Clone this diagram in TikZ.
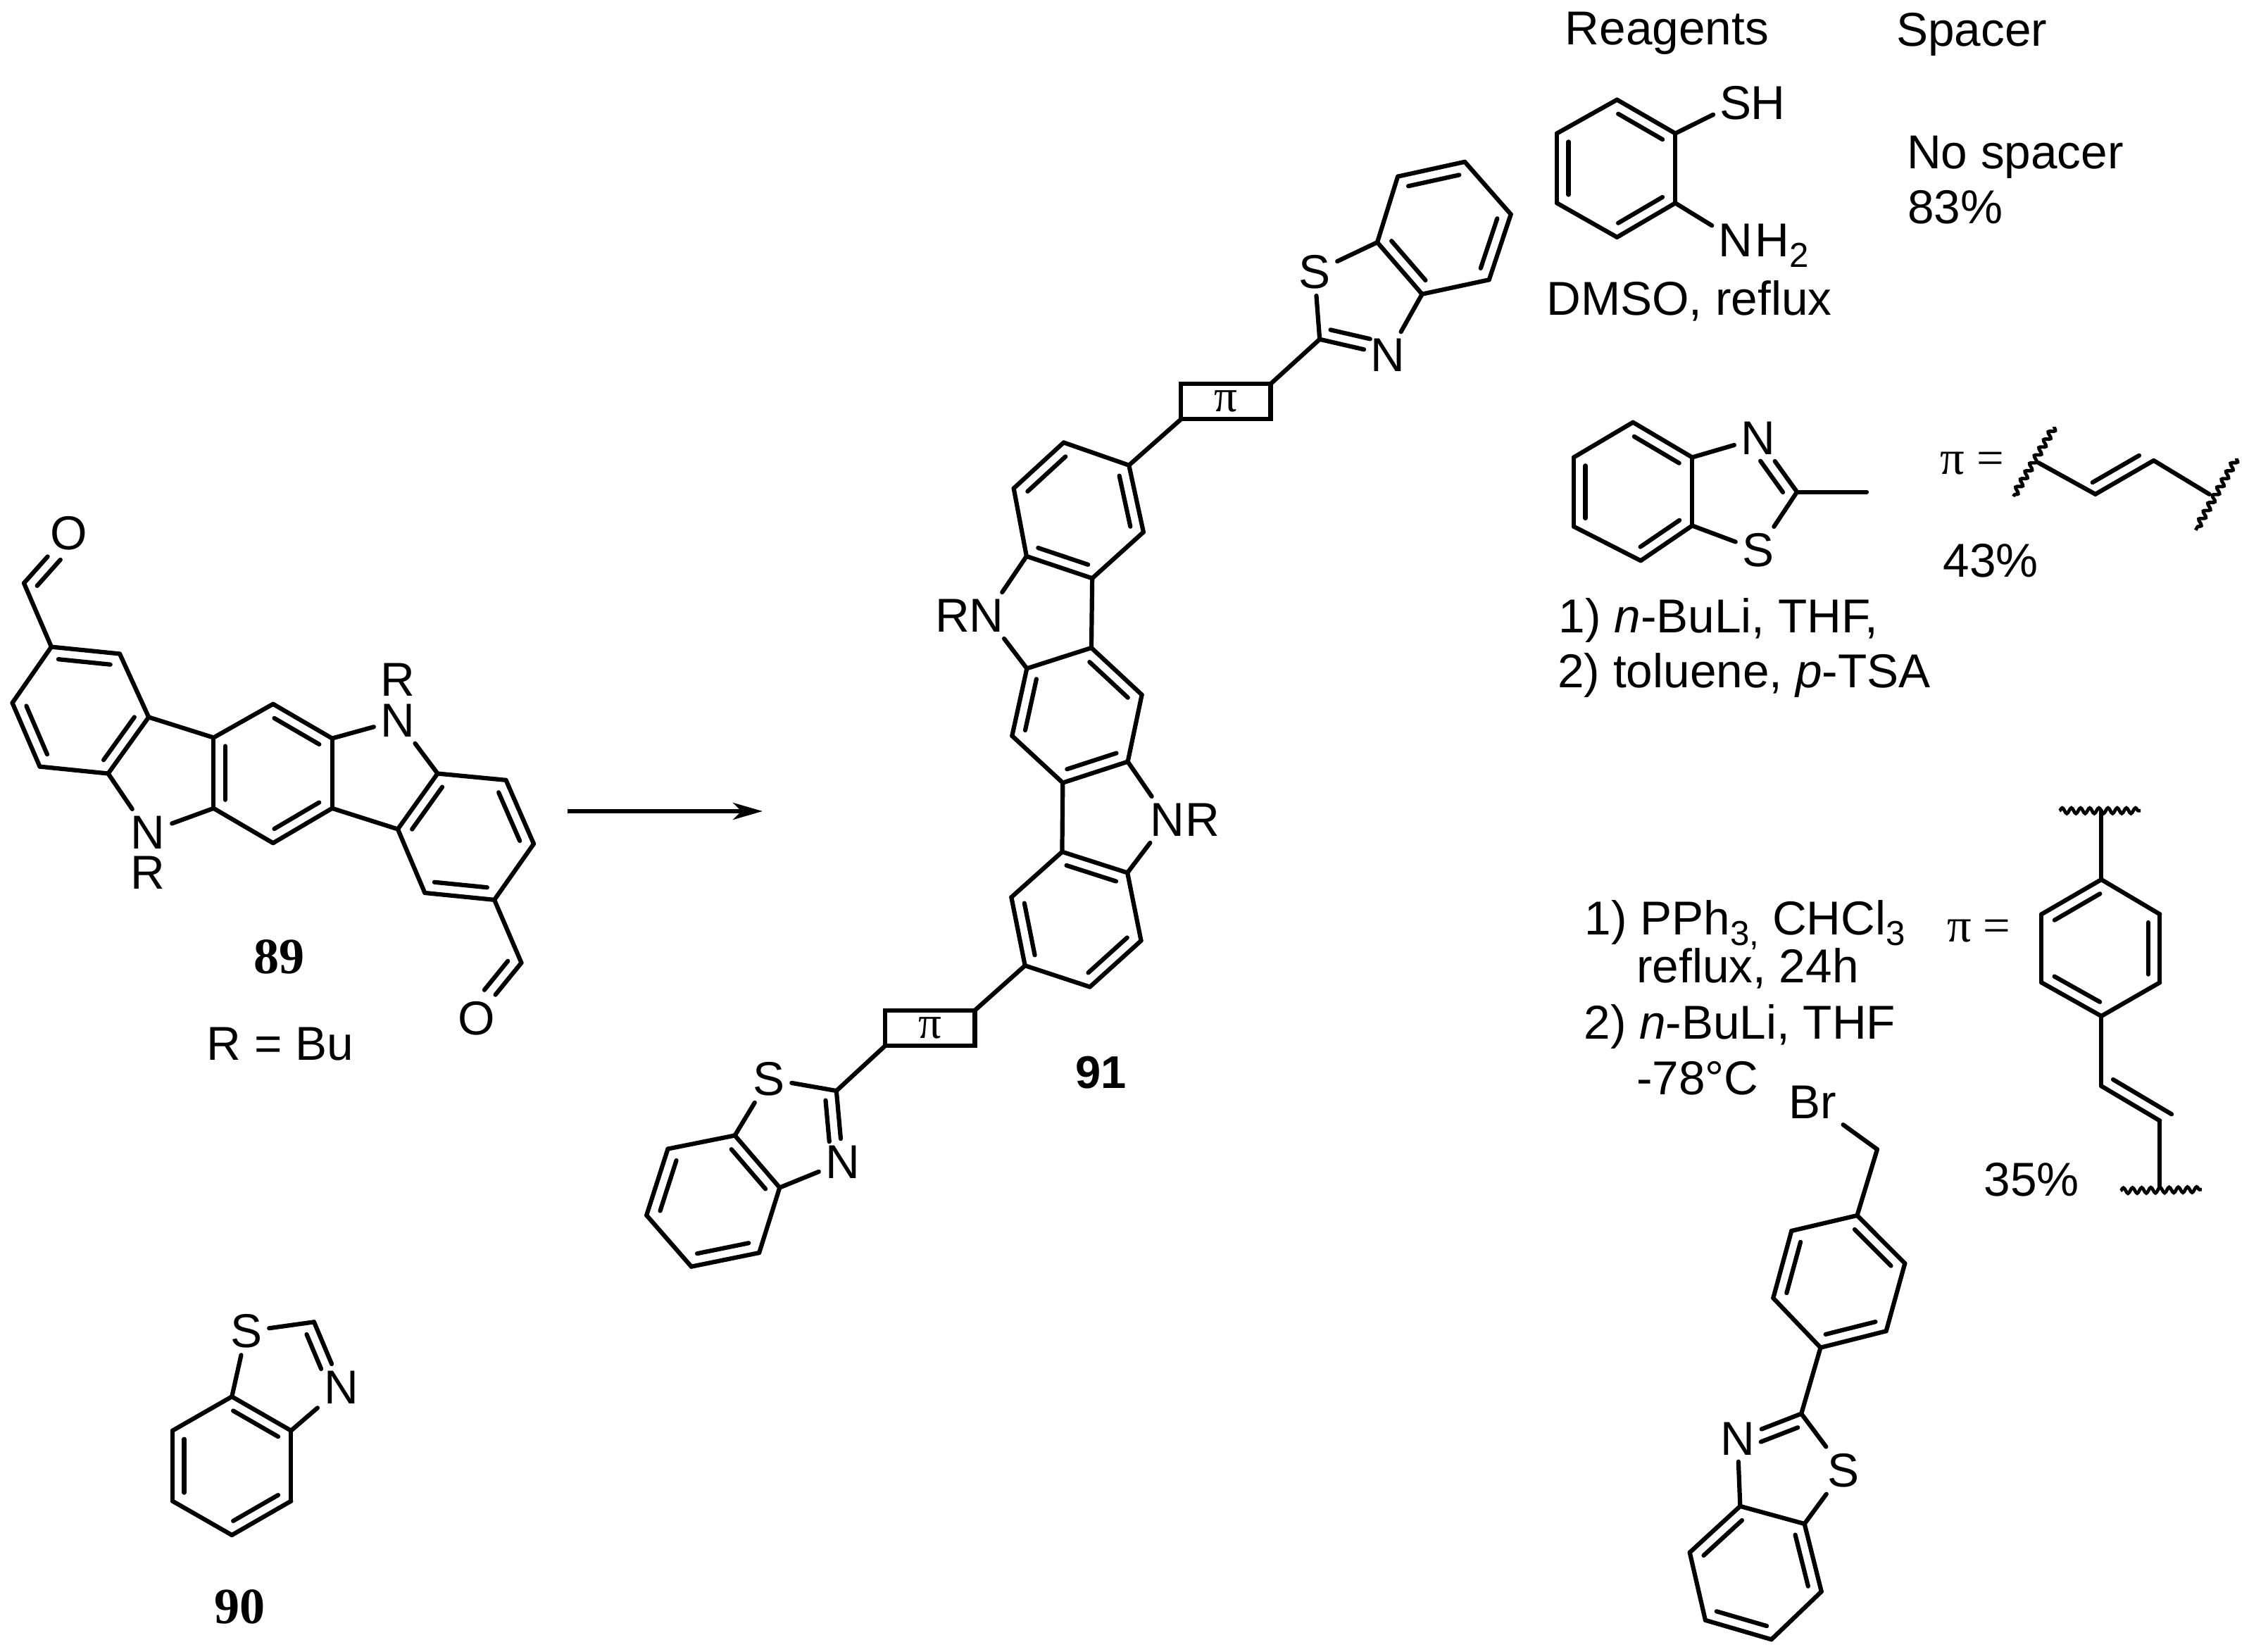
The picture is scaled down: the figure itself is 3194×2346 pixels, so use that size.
\documentclass[tikz,border=0pt]{standalone}
\usepackage{fontspec}
\setmainfont{Liberation Sans}
\newfontfamily\symfont{Liberation Serif}
\usetikzlibrary{calc, arrows.meta, decorations.pathmorphing}
\newcommand{\lowidx}[1]{\smash{\raisebox{-.22em}{\fontsize{14}{15}\selectfont #1}}}
\newcommand{\dbl}[4]{\draw[bond] ($(#1)!#3!(#2)!.165cm!90:(#2)$) -- ($(#2)!#4!(#1)!.165cm!-90:(#1)$);}
\tikzset{
bond/.style={line width=.062cm, line cap=round, line join=round},
wavy/.style={line width=.048cm, decorate, decoration={snake, amplitude=.04cm, segment length=.13cm}},
atom/.style={inner sep=.09cm, font=\fontsize{19.2}{22}\selectfont},
subst/.style={inner sep=0pt, font=\fontsize{19.2}{22}\selectfont},
txt/.style={anchor=base west, inner sep=0pt, font=\fontsize{19.2}{22}\selectfont},
numtimes/.style={inner sep=0pt, font=\symfont\bfseries\fontsize{20.5}{22}\selectfont},
numsans/.style={inner sep=0pt, font=\bfseries\fontsize{18.5}{22}\selectfont},
pitxt/.style={anchor=base west, inner sep=0pt, font=\symfont\fontsize{19.5}{22}\selectfont},
pibox/.style={draw, line width=.062cm, inner sep=0pt, outer sep=0pt, minimum width=1.27cm, minimum height=.5cm, font=\symfont\fontsize{18.5}{22}\selectfont}
}
\begin{document}
\begin{tikzpicture}[x=0.01cm, y=-0.01cm]
\useasboundingbox (0,0) rectangle (3194,2346);

% 89
\begin{scope}[shift={(0,680)}, xscale=.5485, yscale=.5485]
\foreach \n/\x/\y in {ca/62/270, a1/133/435, a2/310/453, a3/385/617, a4/280/763, a5/103/745, a6/32/580, g1/553/670, g2/707/583, g3/860/672, g4/860/853, g5/707/943, g6/553/853, b1/1133/763, b2/1310/780, b3/1382/945, b4/1280/1090, b5/1100/1072, b6/1030/907, cb/1350/1253}{
\coordinate (\n) at (\x,\y);
}
\node[atom] (oa) at (178,140) {O};
\node[atom] (ob) at (1233,1397) {O};
\node[atom] (na) at (383,915) {N};
\node[subst] (ra) at (383,1020) {R};
\node[atom] (nb) at (1030,625) {N};
\node[subst] (rb) at (1030,520) {R};
\node[numtimes] (n89) at (723,1238) {89};
\node[txt] (rbu) at (534,1505) {R = Bu};
\end{scope}
\foreach \a/\b in {ca/oa, ca/a1, a1/a2, a2/a3, a3/a4, a4/a5, a5/a6, a6/a1, a3/g1, g1/g2, g2/g3, g3/g4, g4/g5, g5/g6, g6/g1, a4/na, na/g6, g3/nb, nb/b1, g4/b6, b1/b2, b2/b3, b3/b4, b4/b5, b5/b6, b6/b1, b4/cb, cb/ob}{
\draw[bond] (\a) -- (\b);
}
\foreach \a/\b in {a6/a5, a4/a3, a2/a1, g1/g6, g5/g4, g3/g2, b1/b6, b5/b4, b3/b2}{
\dbl{\a}{\b}{.12}{.12}
}
\dbl{oa}{ca}{.38}{.1}
\dbl{ob}{cb}{.38}{.1}

% arrow
\coordinate (arl) at (806,1152);
\coordinate (arr) at (1083,1152);
\draw[line width=.055cm, -{Stealth[length=.42cm, width=.24cm, inset=.12cm]}] (arl) -- (arr);

% 90
\begin{scope}[shift={(200,1820)}, xscale=.3333, yscale=.3333]
\foreach \n/\x/\y in {c1/388/490, c2/640/635, c3/640/935, c4/388/1080, c5/135/935, c6/135/635, cc/738/172}{
\coordinate (\n) at (\x,\y);
}
\node[atom] (sc) at (450,212) {S};
\node[atom] (nc) at (855,450) {N};
\node[numtimes] (n90) at (422,1385) {90};
\end{scope}
\foreach \a/\b in {c1/c2, c2/c3, c3/c4, c4/c5, c5/c6, c6/c1, c1/sc, sc/cc, cc/nc, c2/nc}{
\draw[bond] (\a) -- (\b);
}
\foreach \a/\b in {c6/c5, c4/c3, c2/c1}{
\dbl{\a}{\b}{.12}{.12}
}
\dbl{nc}{cc}{.35}{.12}

% 91, upper half
\begin{scope}[shift={(1250,200)}, xscale=.606, yscale=.497]
\foreach \n/\x/\y in {t1/1370/60, t2/1478/210, t3/1427/397, t4/1270/438, t5/1165/290, t6/1213/102, tc/1030/567, u1/583/927, u2/617/1118, u3/497/1250, u4/343/1187, u5/313/993, u6/430/862}{
\coordinate (\n) at (\x,\y);
}
\node[atom] (st) at (1018,375) {S};
\node[atom] (nt) at (1190,612) {N};
\node[pibox] (boxa) at (810,745) {π};
\end{scope}
% 91, centre
\begin{scope}[shift={(1300,800)}, xscale=.3333, yscale=.3333]
\foreach \n/\x/\y in {v1/475/448, v2/750/360, v3/965/560, v4/905/845, v5/628/935, v6/412/735}{
\coordinate (\n) at (\x,\y);
}
\node[atom] (nu) at (303,222) {N};
\node[subst] (ru) at (159,222) {R};
\node[atom] (nv) at (1075,1092) {N};
\node[subst] (rv) at (1225,1092) {R};
\end{scope}
% 91, lower half
\begin{scope}[shift={(880,960)}, xscale=.606, yscale=.561]
\foreach \n/\x/\y in {x1/1037/445, x2/1190/498, x3/1222/670, x4/1102/787, x5/950/733, x6/918/560, bc/508/1050, z1/270/1163, z2/375/1295, z3/327/1460, z4/168/1495, z5/63/1365, z6/113/1197}{
\coordinate (\n) at (\x,\y);
}
\node[atom] (sb) at (350,1020) {S};
\node[atom] (nz) at (523,1230) {N};
\node[pibox] (boxb) at (727.5,891) {π};
\node[numsans] (n91) at (1128,1003) {91};
\end{scope}
\foreach \a/\b in {t1/t2, t2/t3, t3/t4, t4/t5, t5/t6, t6/t1, t5/st, st/tc, tc/nt, nt/t4, tc/boxa.north east, boxa.south west/u1, u1/u2, u2/u3, u3/u4, u4/u5, u5/u6, u6/u1, u4/nu, nu/v1, u3/v2, v1/v2, v2/v3, v3/v4, v4/v5, v5/v6, v6/v1, v4/nv, nv/x2, v5/x1, x1/x2, x2/x3, x3/x4, x4/x5, x5/x6, x6/x1, x5/boxb.north east, boxb.south west/bc, bc/sb, sb/z1, bc/nz, nz/z2, z1/z2, z2/z3, z3/z4, z4/z5, z5/z6, z6/z1}{
\draw[bond] (\a) -- (\b);
}
\foreach \a/\b in {t1/t6, t5/t4, t3/t2, u6/u5, u4/u3, u2/u1, v1/v6, v5/v4, v3/v2, x6/x5, x4/x3, x2/x1, z6/z5, z4/z3, z2/z1}{
\dbl{\a}{\b}{.12}{.12}
}
\dbl{tc}{nt}{.12}{.3}
\dbl{nz}{bc}{.3}{.12}

% first two reagents
\begin{scope}[shift={(2180,0)}, xscale=.647, yscale=.638]
\foreach \n/\x/\y in {s1/180/222, s2/308/297, s3/308/452, s4/180/528, s5/48/452, s6/48/297, k1/215/940, k2/345/1018, k3/345/1170, k4/232/1248, k5/85/1172, k6/85/1018, kc/575/1095, km/728/1095, d1/1105/1030, d2/1230/1100, d3/1358/1025, d4/1480/1100, wa/1140/950, wb/1050/1105, wc/1540/1020, wd/1450/1180}{
\coordinate (\n) at (\x,\y);
}
\node[txt] (reag) at (65,100) {Reagents};
\node[txt] (spac) at (792,103) {Spacer};
\node[atom] (ss) at (441,230) {S};
\node[subst] (hs) at (512,230) {H};
\node[atom] (ns) at (441,535) {N};
\node[txt] (hn) at (482,572) {H\lowidx{2}};
\node[txt] (dmso) at (24,702) {DMSO, reflux};
\node[txt] (nosp) at (815,375) {No spacer};
\node[txt] (y83) at (817,497) {83\%};
\node[atom] (nk) at (490,975) {N};
\node[atom] (sk) at (490,1225) {S};
\node[pitxt] (pia) at (888,1055) {π =};
\node[txt] (y43) at (895,1285) {43\%};
\node[txt] (lia) at (51,1408) {1) \textit{n}-BuLi, THF,};
\node[txt] (lib) at (49,1530) {2) toluene, \textit{p}-TSA};
\end{scope}
\foreach \a/\b in {s1/s2, s2/s3, s3/s4, s4/s5, s5/s6, s6/s1, s2/ss, s3/ns, k1/k2, k2/k3, k3/k4, k4/k5, k5/k6, k6/k1, k2/nk, nk/kc, k3/sk, sk/kc, kc/km, d1/d2, d2/d3, d3/d4}{
\draw[bond] (\a) -- (\b);
}
\foreach \a/\b in {s6/s5, s4/s3, s2/s1, k6/k5, k4/k3, k2/k1}{
\dbl{\a}{\b}{.12}{.12}
}
\dbl{kc}{nk}{.12}{.3}
\dbl{d2}{d3}{.05}{.15}
\draw[wavy] (wa) -- (wb);
\draw[wavy] (wc) -- (wd);

% third reagent
\begin{scope}[shift={(2200,1120)}, xscale=.634, yscale=.782]
\foreach \n/\x/\y in {p1/1237/165, p2/1368/228, p3/1368/352, p4/1237/413, p5/1103/352, p6/1103/228, q0/1237/40, q1/1237/540, q2/1368/603, q3/1368/725, we/1143/40, wf/1325/40, wg/1280/730, wh/1462/728, bm/735/655, e1/690/775, e2/797/862, e3/755/985, e4/608/1015, e5/502/925, e6/543/803, ec/565/1135, f1/428/1303, f2/572/1335, f3/610/1458, f4/498/1545, f5/350/1510, f6/315/1387}{
\coordinate (\n) at (\x,\y);
}
\node[txt] (pph) at (79,265) {1) PPh\lowidx{3,} CHCl\lowidx{3}};
\node[txt] (rfx) at (195,352) {reflux, 24h};
\node[txt] (bul) at (77,455) {2) \textit{n}-BuLi, THF};
\node[txt] (tmp) at (195,555) {-78°C};
\node[atom] (br) at (590,570) {Br};
\node[atom] (ne) at (422,1180) {N};
\node[atom] (se) at (660,1238) {S};
\node[pitxt] (pib) at (890,278) {π =};
\node[txt] (y35) at (973,740) {35\%};
\end{scope}
\foreach \a/\b in {q0/p1, p1/p2, p2/p3, p3/p4, p4/p5, p5/p6, p6/p1, p4/q1, q1/q2, q2/q3, br/bm, bm/e1, e1/e2, e2/e3, e3/e4, e4/e5, e5/e6, e6/e1, e4/ec, ec/ne, ec/se, se/f2, ne/f1, f1/f2, f2/f3, f3/f4, f4/f5, f5/f6, f6/f1}{
\draw[bond] (\a) -- (\b);
}
\foreach \a/\b in {p1/p6, p5/p4, p3/p2, e6/e5, e4/e3, e2/e1, f1/f6, f5/f4, f3/f2}{
\dbl{\a}{\b}{.12}{.12}
}
\dbl{q1}{q2}{.1}{-.1}
\dbl{ec}{ne}{.12}{.3}
\draw[wavy] (we) -- (wf);
\draw[wavy] (wg) -- (wh);
\end{tikzpicture}
\end{document}
